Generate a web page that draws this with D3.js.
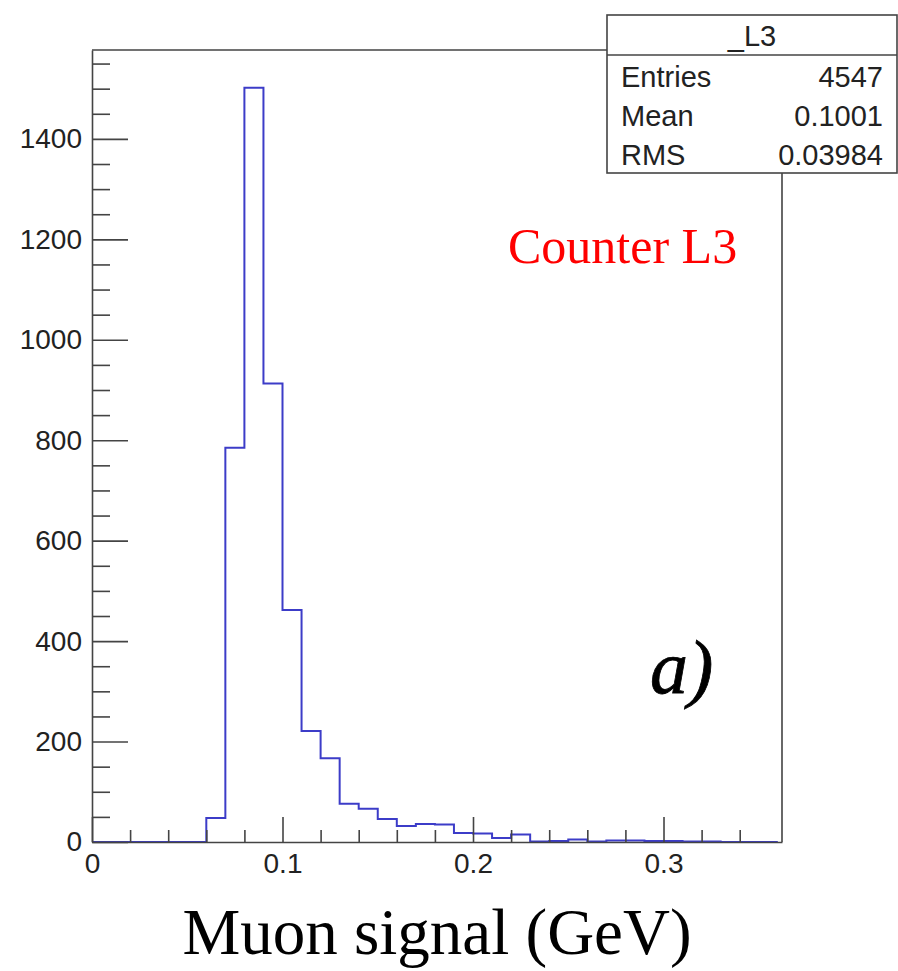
<!DOCTYPE html>
<html>
<head>
<meta charset="utf-8">
<script src="https://cdn.jsdelivr.net/npm/d3@7"></script>
<style>
  body { margin: 0; background: #fff; }
  svg { display: block; }
</style>
</head>
<body>
<div id="container"></div>
<script>
/**
 * CONSTANTS AND GLOBALS
 * */
const width = 898,
  height = 971,
  margin = { top: 50, bottom: 129, left: 92, right: 116 };

// histogram bins: lower edges 0.00 .. 0.35, width 0.01
const binWidth = 0.01;
const binEdges = d3.range(0, 36).map(i => +(i * binWidth).toFixed(2));
const counts = [
  0, 0, 0, 0, 0, 0, 48, 785, 1502, 913,
  462, 221, 167, 76, 66, 46, 32, 36, 35, 18,
  17, 8, 15, 1, 2, 5, 1, 3, 3, 2,
  2, 1, 1, 0, 0, 0
];

const yMajorTicks = [0, 200, 400, 600, 800, 1000, 1200, 1400];
const xMajorTicks = [0, 0.1, 0.2, 0.3];
const xTickLabels = ["0", "0.1", "0.2", "0.3"];

const statsTitle = "_L3";
const statsNames = ["Entries", "Mean", "RMS"];
const statsValues = ["4547", "0.1001", "0.03984"];

const xTitle = "Muon signal (GeV)";
const counterLabel = "Counter L3";
const panelLabel = "a)";

const frameColor = "#444",
  histColor = "#3c3cc8";

/**
 * INIT
 * */
const svg = d3.select("#container")
  .append("svg")
  .attr("width", width)
  .attr("height", height);

const x = d3.scaleLinear()
  .domain([0, 0.3622])
  .range([margin.left, width - margin.right]);

const y = d3.scaleLinear()
  .domain([0, 1577])
  .range([height - margin.bottom, margin.top]);

const x0 = x.range()[0], x1 = x.range()[1];
const yB = y.range()[0], yT = y.range()[1];

// frame (top + right)
svg.append("path")
  .attr("d", `M${x0},${yT}H${x1}V${yB}`)
  .attr("fill", "none")
  .attr("stroke", frameColor)
  .attr("stroke-width", 1.6);

// histogram outline
const stepPts = [];
binEdges.forEach((lo, i) => {
  stepPts.push([lo, counts[i]]);
  stepPts.push([lo + binWidth, counts[i]]);
});
const line = d3.line()
  .x(d => x(d[0]))
  .y(d => y(d[1]));

svg.append("path")
  .datum(stepPts)
  .attr("d", line)
  .attr("fill", "none")
  .attr("stroke", histColor)
  .attr("stroke-width", 2)
  .attr("stroke-linejoin", "miter");

// y axis minor
const yMinor = d3.range(0, 1577, 50).filter(v => v % 200 !== 0);
svg.append("g")
  .attr("transform", `translate(${x0},0)`)
  .call(d3.axisLeft(y).tickValues(yMinor).tickSizeInner(-18).tickSizeOuter(0).tickFormat(""))
  .call(g => g.select(".domain").remove())
  .call(g => g.selectAll("line").attr("stroke", frameColor).attr("stroke-width", 1.6));

// y axis major
svg.append("g")
  .attr("transform", `translate(${x0},0)`)
  .call(d3.axisLeft(y).tickValues(yMajorTicks).tickSizeInner(-36).tickSizeOuter(0).tickPadding(10)
    .tickFormat(d3.format("d")))
  .call(g => g.select(".domain").attr("stroke", frameColor).attr("stroke-width", 1.6))
  .call(g => g.selectAll("line").attr("stroke", frameColor).attr("stroke-width", 1.6))
  .call(g => g.selectAll("text")
    .attr("font-family", "'Liberation Sans', Arial, sans-serif")
    .attr("font-size", 28)
    .attr("fill", "#222"));

// x axis minor
const xMinor = d3.range(1, 18).filter(i => i % 5 !== 0).map(i => i * 0.02);
svg.append("g")
  .attr("transform", `translate(0,${yB})`)
  .call(d3.axisBottom(x).tickValues(xMinor).tickSizeInner(-12).tickSizeOuter(0).tickFormat(""))
  .call(g => g.select(".domain").remove())
  .call(g => g.selectAll("line").attr("stroke", frameColor).attr("stroke-width", 1.6));

// x axis major
svg.append("g")
  .attr("transform", `translate(0,${yB})`)
  .call(d3.axisBottom(x).tickValues(xMajorTicks).tickSizeInner(-25).tickSizeOuter(0).tickPadding(11)
    .tickFormat((d, i) => xTickLabels[i]))
  .call(g => g.select(".domain").attr("stroke", frameColor).attr("stroke-width", 1.6))
  .call(g => g.selectAll("line").attr("stroke", frameColor).attr("stroke-width", 1.6))
  .call(g => g.selectAll("text")
    .attr("font-family", "'Liberation Sans', Arial, sans-serif")
    .attr("font-size", 28)
    .attr("fill", "#222"));

// x axis title
svg.append("text")
  .attr("x", (x0 + x1) / 2)
  .attr("y", 954)
  .attr("text-anchor", "middle")
  .attr("font-family", "'Liberation Serif', 'Times New Roman', serif")
  .attr("font-size", 65)
  .attr("fill", "#000")
  .text(xTitle);

// labels in the pad
svg.append("text")
  .attr("x", 508)
  .attr("y", 263)
  .attr("font-family", "'Liberation Serif', 'Times New Roman', serif")
  .attr("font-size", 50)
  .attr("fill", "#ff0000")
  .text(counterLabel);

svg.append("text")
  .attr("x", 650)
  .attr("y", 693)
  .attr("font-family", "'Liberation Serif', 'Times New Roman', serif")
  .attr("font-style", "italic")
  .attr("font-size", 76)
  .attr("fill", "#000")
  .attr("stroke", "#000")
  .attr("stroke-width", 0.8)
  .text(panelLabel);

// stats box
const box = { x: 607, y: 15, w: 290, h: 158, head: 40, row: 39 };
const stats = svg.append("g");
stats.append("rect")
  .attr("x", box.x)
  .attr("y", box.y)
  .attr("width", box.w)
  .attr("height", box.h)
  .attr("fill", "#fff")
  .attr("stroke", frameColor)
  .attr("stroke-width", 1.6);
stats.append("line")
  .attr("x1", box.x).attr("x2", box.x + box.w)
  .attr("y1", box.y + box.head).attr("y2", box.y + box.head)
  .attr("stroke", frameColor)
  .attr("stroke-width", 1.6);
stats.append("text")
  .attr("x", box.x + box.w / 2)
  .attr("y", 46)
  .attr("text-anchor", "middle")
  .attr("font-family", "'Liberation Sans', Arial, sans-serif")
  .attr("font-size", 29)
  .attr("fill", "#222")
  .text(statsTitle);
stats.selectAll("text.name")
  .data(statsNames)
  .join("text")
  .attr("class", "name")
  .attr("x", 621)
  .attr("y", (d, i) => 87 + i * box.row)
  .attr("font-family", "'Liberation Sans', Arial, sans-serif")
  .attr("font-size", 29)
  .attr("fill", "#222")
  .text(d => d);
stats.selectAll("text.val")
  .data(statsValues)
  .join("text")
  .attr("class", "val")
  .attr("x", 883)
  .attr("y", (d, i) => 87 + i * box.row)
  .attr("text-anchor", "end")
  .attr("font-family", "'Liberation Sans', Arial, sans-serif")
  .attr("font-size", 29)
  .attr("fill", "#222")
  .text(d => d);
</script>
</body>
</html>
